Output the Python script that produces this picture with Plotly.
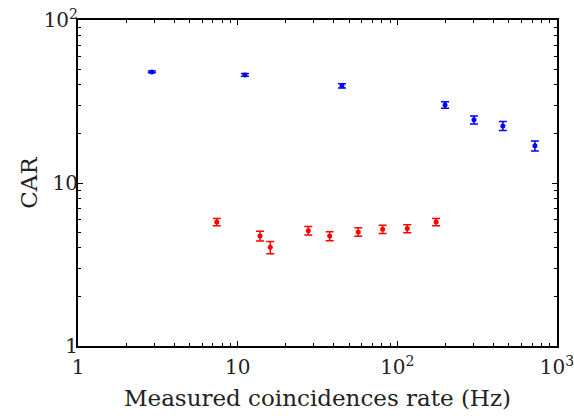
import plotly.graph_objects as go

blue_x = [2.9, 11.1, 45, 199, 302, 458, 727]
blue_y = [48.0, 46.0, 39.4, 30.1, 24.4, 22.4, 16.9]
blue_err = [0.6, 0.9, 1.2, 1.4, 1.4, 1.4, 1.2]

red_x = [7.4, 13.8, 16.0, 27.7, 37.7, 56.9, 80.9, 115.4, 175]
red_y = [5.76, 4.73, 4.03, 5.10, 4.73, 5.01, 5.20, 5.25, 5.76]
red_err = [0.3, 0.32, 0.35, 0.3, 0.3, 0.3, 0.3, 0.3, 0.3]

x_tickvals = [1, 10, 100, 1000]
x_ticktext = ["1", "10", "10<sup>2</sup>", "10<sup>3</sup>"]
y_tickvals = [1, 10, 100]
y_ticktext = ["1", "10", "10<sup>2</sup>"]

x_minor = [m * d for d in (1, 10, 100) for m in range(2, 10)]
y_minor = [m * d for d in (1, 10) for m in range(2, 10)]

font_family = "DejaVu Serif"
text_color = "#222222"

fig = go.Figure()
fig.add_trace(go.Scatter(
    x=blue_x, y=blue_y, mode="markers",
    marker=dict(color="blue", size=5),
    error_y=dict(type="data", array=blue_err, color="blue", thickness=1.5, width=4),
    showlegend=False))
fig.add_trace(go.Scatter(
    x=red_x, y=red_y, mode="markers",
    marker=dict(color="red", size=5),
    error_y=dict(type="data", array=red_err, color="red", thickness=1.5, width=4),
    showlegend=False))

axis_common = dict(
    type="log", showline=True, linecolor="black", linewidth=2, mirror="ticks",
    ticks="inside", ticklen=5, tickcolor="black", tickwidth=1,
    showgrid=False, zeroline=False, automargin=False, ticklabeloverflow="allow",
    tickfont=dict(family=font_family, size=20, color=text_color),
)

fig.update_xaxes(**axis_common, range=[0, 3], tickvals=x_tickvals, ticktext=x_ticktext,
                 minor=dict(ticks="inside", ticklen=3, tickcolor="black", tickwidth=1,
                            showgrid=False, tickmode="array", tickvals=x_minor),
                 ticklabelstandoff=2,
                 title=dict(text="Measured coincidences rate (Hz)",
                            font=dict(family=font_family, size=23, color=text_color), standoff=12))
fig.update_yaxes(**axis_common, range=[0, 2], tickvals=y_tickvals, ticktext=y_ticktext,
                 minor=dict(ticks="inside", ticklen=3, tickcolor="black", tickwidth=1,
                            showgrid=False, tickmode="array", tickvals=y_minor),
                 ticklabelstandoff=-6,
                 title=dict(text="CAR", font=dict(family=font_family, size=23, color=text_color), standoff=0))

fig.update_layout(
    width=574, height=419,
    margin=dict(l=78, r=17, t=20, b=73, autoexpand=False),
    plot_bgcolor="white", paper_bgcolor="white",
)

fig.write_html("out.html", config={"displayModeBar": False},
               post_script="document.body.style.margin='0';")
